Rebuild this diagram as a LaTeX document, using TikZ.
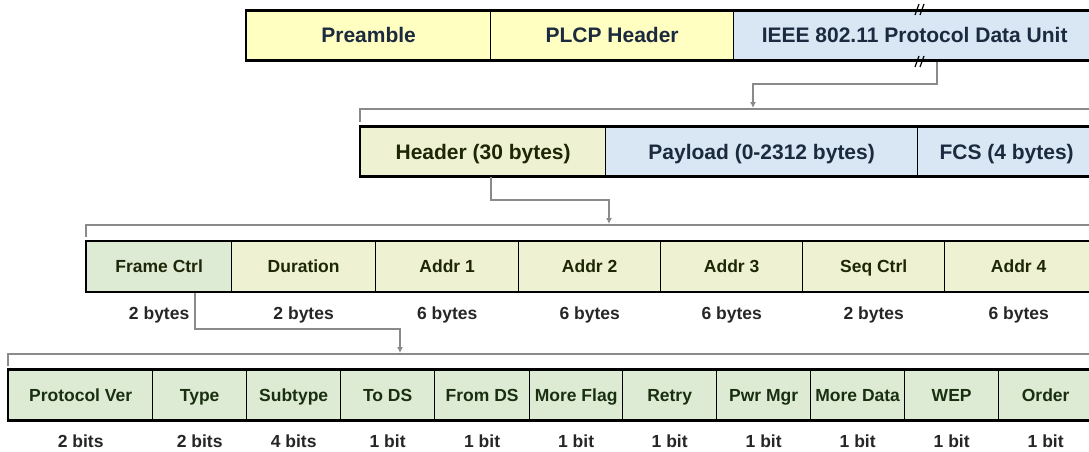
\documentclass[tikz,border=0pt]{standalone}
\usepackage{fontspec}
\setmainfont{Liberation Sans}
\usetikzlibrary{arrows.meta}
\definecolor{plcpyel}{HTML}{FFFFC2}
\definecolor{pdublue}{HTML}{D9E6F4}
\definecolor{hdryel}{HTML}{EEF2D3}
\definecolor{fcgreen}{HTML}{DEEBD4}
\definecolor{navytxt}{HTML}{1B2A3E}
\definecolor{olivetxt}{HTML}{1E2608}
\definecolor{greentxt}{HTML}{183010}
\definecolor{linkgray}{HTML}{8A8A8A}
\tikzset{bigcell/.style = {draw, line width = 1.3, anchor = west, inner sep = 0,
                           minimum height = 49, text height = 15pt, text depth = 0pt,
                           font = \fontsize{21}{25}\selectfont\bfseries, text = navytxt}}
\tikzset{cell/.style = {draw, line width = 1.3, anchor = west, inner sep = 0,
                        minimum height = 50, text height = 12.5pt, text depth = 0pt,
                        font = \fontsize{17.5}{21}\selectfont\bfseries, text = olivetxt}}
\tikzset{lbl/.style = {inner sep = 0, text height = 12.5pt, text depth = 0pt,
                       font = \fontsize{17.5}{21}\selectfont\bfseries, text = black!85}}
\tikzset{frame/.style = {line width = 2.6}}
\tikzset{brk/.style = {line width = 1.2}}
\tikzset{bracket/.style = {draw = linkgray, line width = 1.8}}
\tikzset{link/.style = {draw = linkgray, line width = 1.5,
                        -{Latex[length = 6pt, width = 6pt]}}}

\begin{document}
\begin{tikzpicture}[x = 1pt, y = -1pt]
  \useasboundingbox (0, 0) rectangle (1089, 452);
  \clip (0, 0) rectangle (1089, 452);

  % PLCP frame
  \node [bigcell, fill = plcpyel, minimum width = 244] (pre) at (246, 35.5) {Preamble};
  \node [bigcell, fill = plcpyel, minimum width = 243] (plcp) at (490, 35.5) {PLCP Header};
  \node [bigcell, fill = pdublue, minimum width = 362] (pdu) at (733, 35.5) {IEEE 802.11 Protocol Data Unit};
  \draw [frame] (pre.north west) rectangle (pdu.south east);
  \draw [brk] (915, 15) -- (919, 4) (920, 15) -- (924, 4);
  \draw [brk] (915, 67) -- (919, 56) (920, 67) -- (924, 56);

  \coordinate (pduout) at (937, 62);
  \coordinate (hdrin) at (753, 108);
  \draw [link] (pduout) -- ++(0, 22) -| (hdrin);
  \coordinate (br2l) at (360, 122);
  \coordinate (br2r) at (1095, 109);
  \draw [bracket] (br2l) |- (br2r);

  % MAC frame
  \node [bigcell, fill = hdryel, text = olivetxt, minimum width = 245] (hdr) at (360, 151.5) {Header (30 bytes)};
  \node [bigcell, fill = pdublue, minimum width = 312] (pay) at (605, 151.5) {Payload (0-2312 bytes)};
  \node [bigcell, fill = pdublue, minimum width = 178] (fcs) at (917, 151.5) {FCS (4 bytes)};
  \draw [frame] (hdr.north west) rectangle (fcs.south east);

  \coordinate (hdrout) at (491, 177);
  \coordinate (macin) at (609, 224);
  \draw [link] (hdrout) -- ++(0, 23) -| (macin);
  \coordinate (br3l) at (86, 237);
  \coordinate (br3r) at (1095, 225);
  \draw [bracket] (br3l) |- (br3r);

  % MAC header
  \node [cell, fill = fcgreen, minimum width = 145] (fc) at (86, 266.5) {Frame Ctrl};
  \node [cell, fill = hdryel, minimum width = 144] (dur) at (231, 266.5) {Duration};
  \node [cell, fill = hdryel, minimum width = 143] (aone) at (375, 266.5) {Addr 1};
  \node [cell, fill = hdryel, minimum width = 142] (atwo) at (518, 266.5) {Addr 2};
  \node [cell, fill = hdryel, minimum width = 142] (athree) at (660, 266.5) {Addr 3};
  \node [cell, fill = hdryel, minimum width = 142] (seq) at (802, 266.5) {Seq Ctrl};
  \node [cell, fill = hdryel, minimum width = 148] (afour) at (944, 266.5) {Addr 4};
  \draw [frame] (fc.north west) rectangle (afour.south east);

  \node [lbl] (fcsz) at ([yshift = -21pt] fc.south) {2 bytes};
  \node [lbl] (dursz) at ([yshift = -21pt] dur.south) {2 bytes};
  \node [lbl] (aonesz) at ([yshift = -21pt] aone.south) {6 bytes};
  \node [lbl] (atwosz) at ([yshift = -21pt] atwo.south) {6 bytes};
  \node [lbl] (athreesz) at ([yshift = -21pt] athree.south) {6 bytes};
  \node [lbl] (seqsz) at ([yshift = -21pt] seq.south) {2 bytes};
  \node [lbl] (afoursz) at ([yshift = -21pt] afour.south) {6 bytes};

  \coordinate (fcout) at (195, 293);
  \coordinate (fcin) at (400, 353);
  \draw [link] (fcout) -- ++(0, 36) -| (fcin);
  \coordinate (br4l) at (8, 366);
  \coordinate (br4r) at (1095, 354);
  \draw [bracket] (br4l) |- (br4r);

  % frame control field
  \node [cell, fill = fcgreen, text = greentxt, minimum width = 144] (pv) at (8, 395) {Protocol Ver};
  \node [cell, fill = fcgreen, text = greentxt, minimum width = 94] (ty) at (152, 395) {Type};
  \node [cell, fill = fcgreen, text = greentxt, minimum width = 94] (sty) at (246, 395) {Subtype};
  \node [cell, fill = fcgreen, text = greentxt, minimum width = 94] (tods) at (340, 395) {To DS};
  \node [cell, fill = fcgreen, text = greentxt, minimum width = 95] (fromds) at (434, 395) {From DS};
  \node [cell, fill = fcgreen, text = greentxt, minimum width = 93] (mflag) at (529, 395) {More Flag};
  \node [cell, fill = fcgreen, text = greentxt, minimum width = 94] (retry) at (622, 395) {Retry};
  \node [cell, fill = fcgreen, text = greentxt, minimum width = 94] (pwr) at (716, 395) {Pwr Mgr};
  \node [cell, fill = fcgreen, text = greentxt, minimum width = 94] (mdata) at (810, 395) {More Data};
  \node [cell, fill = fcgreen, text = greentxt, minimum width = 94] (wep) at (904, 395) {WEP};
  \node [cell, fill = fcgreen, text = greentxt, minimum width = 94] (ord) at (998, 395) {Order};
  \draw [frame] (pv.north west) rectangle (ord.south east);

  \node [lbl] (pvsz) at ([yshift = -21pt] pv.south) {2 bits};
  \node [lbl] (tysz) at ([yshift = -21pt] ty.south) {2 bits};
  \node [lbl] (stysz) at ([yshift = -21pt] sty.south) {4 bits};
  \node [lbl] (todssz) at ([yshift = -21pt] tods.south) {1 bit};
  \node [lbl] (fromdssz) at ([yshift = -21pt] fromds.south) {1 bit};
  \node [lbl] (mflagsz) at ([yshift = -21pt] mflag.south) {1 bit};
  \node [lbl] (retrysz) at ([yshift = -21pt] retry.south) {1 bit};
  \node [lbl] (pwrsz) at ([yshift = -21pt] pwr.south) {1 bit};
  \node [lbl] (mdatasz) at ([yshift = -21pt] mdata.south) {1 bit};
  \node [lbl] (wepsz) at ([yshift = -21pt] wep.south) {1 bit};
  \node [lbl] (ordsz) at ([yshift = -21pt] ord.south) {1 bit};
\end{tikzpicture}
\end{document}
